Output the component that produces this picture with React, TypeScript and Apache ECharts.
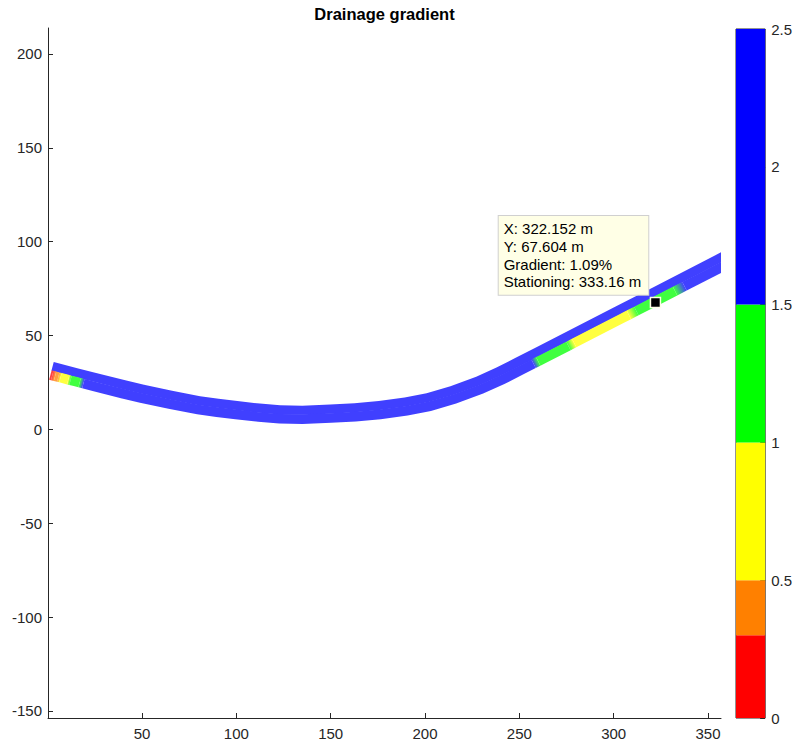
import React, { useEffect, useRef } from "react";
import * as echarts from "echarts";

// Road centerline (m)
const centerX = [2, 15, 25, 40, 50, 65, 80, 90, 100, 112, 123, 135, 150, 163, 176, 190, 202, 215, 229, 240, 250, 261, 303, 322, 362];
const centerY = [31.2, 27.8, 25.2, 21.4, 19.0, 15.8, 12.9, 11.5, 10.3, 8.9, 8.0, 7.8, 8.4, 9.1, 10.3, 12.2, 14.6, 18.4, 23.6, 28.6, 33.7, 39.3, 61.0, 70.8, 91.5];

// Gradient profile (%) along each lane, keyed by x (m)
const upperLaneX = [2, 362];
const upperLaneG = [2, 2];
const lowerLaneX = [2, 3, 4.5, 6.2, 7.4, 11.5, 12.7, 17.5, 19.5, 256.5, 259, 275, 278, 307, 311, 331.5, 336.5, 362];
const lowerLaneG = [0.15, 0.2, 0.4, 0.4, 0.75, 0.75, 1.25, 1.25, 2, 2, 1.25, 1.25, 0.75, 0.75, 1.25, 1.25, 2, 2];

// Colour classes
const classEdges = [0, 0.3, 0.5, 1, 1.5, 2.5];
const classColors = ["#ff0000", "#ff8000", "#ffff00", "#00ff00", "#0000ff"];

// Ticks
const xTicks = [50, 100, 150, 200, 250, 300, 350];
const yTicks = [-150, -100, -50, 0, 50, 100, 150, 200];

// Data tip
const tipX = [322.152];
const tipY = [67.604];
const tipGradient = [1.09];
const tipStation = [333.16];

const LANE_W = 4.85;
const FACE_ALPHA = 0.75;
const FONT = "'Liberation Sans', Arial, Helvetica, sans-serif";
const AX = "#262626";

function faded(hex: string): string {
  const n = parseInt(hex.slice(1), 16);
  const ch = [(n >> 16) & 255, (n >> 8) & 255, n & 255].map((v) =>
    Math.round(v * FACE_ALPHA + 255 * (1 - FACE_ALPHA))
  );
  return `rgb(${ch[0]},${ch[1]},${ch[2]})`;
}

function colorOf(g: number): string {
  for (let i = 0; i < classColors.length; i++) {
    if (g < classEdges[i + 1]) return faded(classColors[i]);
  }
  return faded(classColors[classColors.length - 1]);
}

function centerAt(x: number): number[] {
  let i = 0;
  while (i < centerX.length - 2 && x > centerX[i + 1]) i++;
  const t = (x - centerX[i]) / (centerX[i + 1] - centerX[i]);
  return [x, centerY[i] + t * (centerY[i + 1] - centerY[i])];
}

function buildSegments(xs: number[], gs: number[], side: number) {
  const out: number[][] = [];
  for (let i = 0; i < xs.length - 1; i++) out.push([xs[i], xs[i + 1], gs[i], gs[i + 1], side]);
  return out;
}

const roadData = [...buildSegments(upperLaneX, upperLaneG, 1), ...buildSegments(lowerLaneX, lowerLaneG, -1)];

function renderRoad(params: any, api: any) {
  const xa = api.value(0);
  const xb = api.value(1);
  const ga = api.value(2);
  const gb = api.value(3);
  const side = api.value(4);
  const xs = [xa];
  for (const cx of centerX) if (cx > xa && cx < xb) xs.push(cx);
  xs.push(xb);
  const w = api.size([LANE_W, 0])[0];
  const overlap = side < 0 ? 0.5 : 0;
  const inner: number[][] = [];
  const outer: number[][] = [];
  const mid: number[][] = [];
  for (const x of xs) {
    const p = api.coord(centerAt(x));
    const p1 = api.coord(centerAt(Math.max(centerX[0], x - 0.5)));
    const p2 = api.coord(centerAt(Math.min(centerX[centerX.length - 1], x + 0.5)));
    const dx = p2[0] - p1[0];
    const dy = p2[1] - p1[1];
    const len = Math.hypot(dx, dy) || 1;
    const nx = dy / len;
    const ny = -dx / len;
    mid.push(p);
    inner.push([p[0] - nx * overlap * side, p[1] - ny * overlap * side]);
    outer.push([p[0] + nx * w * side, p[1] + ny * w * side]);
  }
  const pts = inner.concat(outer.slice().reverse());
  const a = mid[0];
  const b = mid[mid.length - 1];
  const fill =
    ga === gb
      ? colorOf(ga)
      : new echarts.graphic.LinearGradient(a[0], a[1], b[0], b[1], [
          { offset: 0, color: colorOf(ga) },
          { offset: 1, color: colorOf(gb) },
        ], true);
  return {
    type: "polygon",
    shape: { points: pts },
    style: { fill, stroke: null },
  };
}

const option: any = {
  animation: false,
  backgroundColor: "#ffffff",
  textStyle: { fontFamily: FONT },
  graphic: [
    {
      type: "text",
      x: 384.5,
      y: 14,
      style: {
        text: "Drainage gradient",
        textAlign: "center",
        textVerticalAlign: "middle",
        font: `bold 16.5px ${FONT}`,
        fill: "#000",
      },
    },
  ],
  grid: [
    { left: 48, right: 74, top: 28, bottom: 28, show: false },
    { left: 736, width: 31, top: 29, bottom: 28, show: true, borderColor: AX, borderWidth: 1, backgroundColor: "transparent" },
  ],
  xAxis: [
    {
      type: "value",
      gridIndex: 0,
      min: 0.18,
      max: 356.9,
      axisLine: { show: true, onZero: false, lineStyle: { color: AX, width: 1 } },
      axisTick: { show: true, inside: true, length: 5, customValues: xTicks, lineStyle: { color: AX } },
      axisLabel: { customValues: xTicks, fontSize: 15, color: AX, margin: 8, fontFamily: FONT },
      splitLine: { show: false },
    },
    { type: "category", gridIndex: 1, data: ["c"], show: false },
  ],
  yAxis: [
    {
      type: "value",
      gridIndex: 0,
      min: -153.73,
      max: 213.85,
      axisLine: { show: true, onZero: false, lineStyle: { color: AX, width: 1 } },
      axisTick: { show: true, inside: true, length: 5, customValues: yTicks, lineStyle: { color: AX } },
      axisLabel: { customValues: yTicks, fontSize: 15, color: AX, margin: 6, fontFamily: FONT },
      splitLine: { show: false },
    },
    {
      type: "value",
      gridIndex: 1,
      position: "right",
      min: 0,
      max: 2.5,
      interval: 0.5,
      axisLine: { show: false },
      axisTick: { show: true, inside: true, length: 5, lineStyle: { color: AX } },
      axisLabel: { fontSize: 15, color: AX, margin: 6, fontFamily: FONT },
      splitLine: { show: false },
    },
  ],
  series: [
    {
      type: "custom",
      xAxisIndex: 0,
      yAxisIndex: 0,
      clip: true,
      renderItem: renderRoad,
      data: roadData,
      silent: true,
    },
    {
      type: "scatter",
      xAxisIndex: 0,
      yAxisIndex: 0,
      symbol: "rect",
      symbolSize: 10,
      z: 10,
      itemStyle: { color: "#000", borderColor: "#ffffe6", borderWidth: 1.5, opacity: 1 },
      data: tipX.map((x, i) => [x, tipY[i], tipGradient[i], tipStation[i]]),
      label: {
        show: true,
        position: [-151, -2],
        align: "left",
        verticalAlign: "bottom",
        formatter: (p: any) =>
          `X: ${p.value[0].toFixed(3)} m\nY: ${p.value[1].toFixed(3)} m\nGradient: ${p.value[2].toFixed(2)}%\nStationing: ${p.value[3].toFixed(2)} m`,
        fontSize: 15,
        lineHeight: 17.7,
        color: "#000",
        fontFamily: FONT,
        backgroundColor: "#ffffe6",
        borderColor: "#d0d0d0",
        borderWidth: 1,
        padding: [4, 7, 4, 5],
      },
    },
    ...classColors.map((c, i) => ({
      type: "bar",
      xAxisIndex: 1,
      yAxisIndex: 1,
      stack: "cb",
      barWidth: "100%",
      silent: true,
      itemStyle: { color: c },
      data: [classEdges[i + 1] - classEdges[i]],
    })),
  ],
};

export default function App() {
  const ref = useRef<HTMLDivElement>(null);
  useEffect(() => {
    const chart = echarts.init(ref.current!, null, { renderer: "svg" });
    chart.setOption(option);
    return () => chart.dispose();
  }, []);
  return (
    <div
      ref={ref}
      style={{ position: "fixed", left: 0, top: 0, width: 795, height: 746, background: "#fff" }}
    />
  );
}
